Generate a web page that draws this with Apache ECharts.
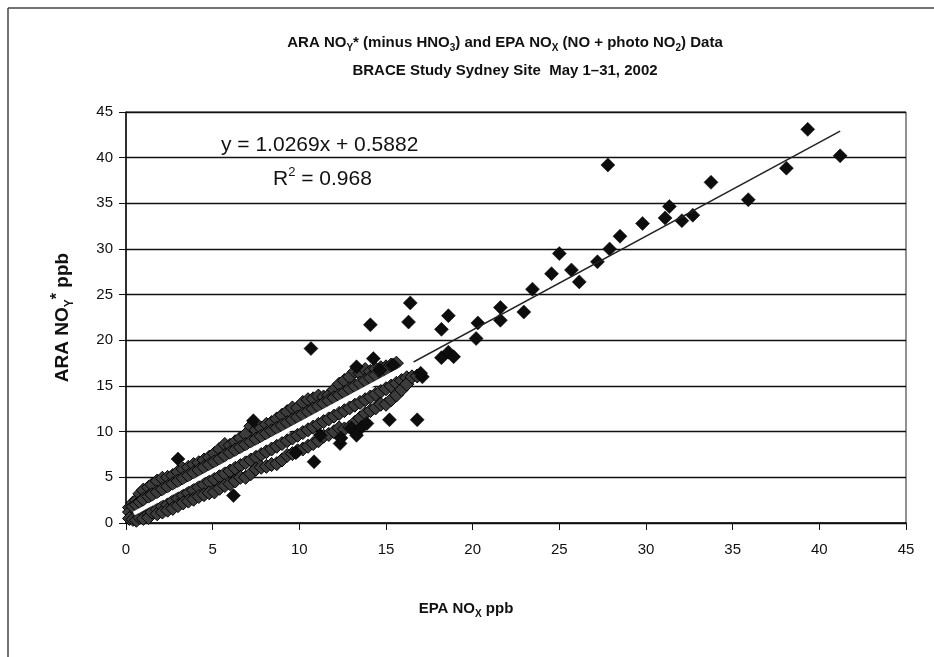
<!DOCTYPE html>
<html>
<head>
<meta charset="utf-8">
<title>ARA NOy* vs EPA NOx</title>
<script src="https://cdn.jsdelivr.net/npm/echarts@6/dist/echarts.min.js"></script>
<style>
html, body { margin: 0; padding: 0; background: #fff; }
#chart { width: 934px; height: 657px; }
</style>
</head>
<body>
<div id="chart"></div>
<script>
// dense band of hourly points: x columns and the y values read at each column
const bandX = [0.2, 0.4, 0.6, 0.8, 1.0, 1.3, 1.5, 1.8, 2.1, 2.4, 2.7, 3.0, 3.3, 3.6, 3.9,
    4.2, 4.5, 4.8, 5.1, 5.4, 5.7, 6.0, 6.3, 6.6, 6.9, 7.2, 7.5, 7.8, 8.1, 8.4, 8.7,
    9.0, 9.3, 9.6, 9.9, 10.2, 10.5, 10.8, 11.1, 11.4, 11.7, 12.0, 12.3, 12.6, 12.9,
    13.2, 13.5, 13.8, 14.1, 14.4, 14.7, 15.0, 15.3, 15.6, 15.9, 16.2, 16.5, 16.8]
const bandY = [
    [1.7, 1.2, 0.5], [2.2, 1.8, 0.4], [2.5, 2.0, 0.3], [3.2, 2.3, 0.6], [3.6, 2.6, 1.2, 0.5],
    [3.9, 2.9, 1.0, 0.6], [4.2, 3.1, 1.2], [4.6, 3.4, 1.5, 1.0], [4.9, 3.7, 1.8, 1.2],
    [5.0, 4.0, 2.0, 1.4], [5.2, 4.3, 2.4, 1.6], [5.6, 4.6, 2.7, 1.9], [5.9, 4.9, 3.0, 2.2],
    [6.1, 5.2, 3.3, 2.4], [6.4, 5.5, 3.6, 2.6], [6.6, 5.8, 3.9, 2.9], [6.9, 6.1, 4.2, 3.1],
    [7.2, 6.4, 4.5, 3.3], [7.6, 6.7, 4.8, 3.4], [8.1, 7.0, 5.1, 3.8], [8.6, 7.4, 5.4, 4.1],
    [8.5, 7.7, 5.7, 4.3], [8.9, 8.0, 6.0, 4.6], [9.3, 8.3, 6.3, 5.0], [9.7, 8.6, 6.6, 5.0],
    [10.6, 8.9, 6.9, 5.4], [10.2, 9.2, 7.2, 5.9], [10.4, 9.5, 7.5, 6.1], [10.8, 9.8, 7.8, 6.2],
    [11.0, 10.1, 8.1, 6.4], [11.4, 10.4, 8.4, 6.5], [11.8, 10.7, 8.7, 6.9], [12.2, 11.0, 9.0, 7.4],
    [12.6, 11.3, 9.3, 7.6], [12.6, 11.6, 9.6, 7.9], [13.2, 11.9, 9.9, 8.1], [13.5, 12.2, 10.2, 8.4],
    [13.6, 12.5, 10.5, 8.7], [13.9, 12.8, 10.8, 9.0], [13.8, 13.1, 11.1, 9.5], [14.0, 13.4, 11.4, 9.7],
    [14.6, 13.7, 11.7, 10.0], [15.2, 14.0, 12.0, 10.4], [15.6, 14.3, 12.3, 10.3], [16.0, 14.7, 12.6, 10.5],
    [16.6, 15.0, 12.9, 11.0], [16.4, 15.3, 13.2, 11.5], [16.8, 15.6, 13.5, 12.0], [16.6, 15.9, 13.8, 12.3],
    [16.9, 16.2, 14.1, 12.6], [17.0, 16.5, 14.4, 13.0], [17.1, 16.8, 14.7, 13.0], [17.3, 15.0, 13.5],
    [17.5, 15.3, 14.0], [15.6, 14.6], [15.9, 15.2], [16.0], [16.1]
]

// isolated points
const sparseX = [12.35, 12.4, 13.0, 13.3, 13.6, 13.9, 15.2, 16.8, 11.2, 17.1,
    3.0, 6.2, 7.35, 9.8, 10.85, 10.67, 14.1, 14.27, 13.3, 15.4, 14.65, 17.0,
    16.3, 16.4, 18.2, 18.6, 18.2, 18.6, 18.9, 20.2, 20.3, 21.6, 21.6, 22.95,
    23.45, 24.55, 25.0, 25.7, 26.15, 27.2, 27.9, 28.5, 29.8, 31.1, 31.35, 32.07,
    32.7, 33.75, 35.9, 38.1, 39.33, 41.2, 27.8]
const sparseY = [8.7, 9.3, 10.4, 9.6, 10.5, 10.9, 11.3, 11.3, 9.6, 16.0,
    7.0, 3.0, 11.2, 7.7, 6.7, 19.1, 21.7, 18.0, 17.1, 17.3, 16.75, 16.4,
    22.0, 24.1, 21.2, 22.7, 18.1, 18.7, 18.2, 20.2, 21.9, 22.2, 23.6, 23.1,
    25.6, 27.3, 29.5, 27.7, 26.4, 28.6, 30.0, 31.4, 32.8, 33.4, 34.65, 33.1,
    33.7, 37.3, 35.4, 38.85, 43.1, 40.2, 39.2]

// linear trend line end points (y = 1.0269x + 0.5882)
const trendX = [0.3, 41.2]
const trendY = [0.9, 42.9]
// part of the trend line that shows white over the dense band
const trendWhiteX = [0.45, 16.6]
const trendWhiteY = [1.05, 17.6]

const FONT = 'Liberation Sans, Arial, sans-serif'

const bandPoints = []
bandX.forEach((x, i) => bandY[i].forEach(y => bandPoints.push([x, y])))
const sparsePoints = sparseX.map((x, i) => [x, sparseY[i]])

const subStyle = {fontSize: 10, fontWeight: 'bold', fontFamily: FONT, verticalAlign: 'bottom', lineHeight: 10, color: '#111'}

const myChart = echarts.init(document.getElementById('chart'))
myChart.setOption({
    backgroundColor: '#fff',
    animation: false,
    grid: {
        left: 126,
        right: 28,
        top: 112,
        bottom: 134,
        show: true,
        borderColor: '#222',
        borderWidth: 1
    },
    xAxis: {
        type: 'value',
        min: 0,
        max: 45,
        interval: 5,
        axisLine: {show: true, lineStyle: {color: '#111', width: 1.5}},
        axisTick: {show: true, length: 7, lineStyle: {color: '#111'}},
        splitLine: {show: false},
        axisLabel: {color: '#111', fontSize: 15, fontFamily: FONT, margin: 19}
    },
    yAxis: {
        type: 'value',
        min: 0,
        max: 45,
        interval: 5,
        name: 'ARA NO{sub|Y}{sup|*} ppb',
        nameLocation: 'middle',
        nameRotate: 90,
        nameGap: 50,
        nameTextStyle: {
            fontSize: 19, fontWeight: 'bold', fontFamily: FONT, color: '#111', lineHeight: 26,
            rich: {
                sub: {...subStyle, fontSize: 12, lineHeight: 12},
                sup: {fontSize: 16, fontWeight: 'bold', fontFamily: FONT, verticalAlign: 'top', lineHeight: 16, color: '#111'}
            }
        },
        axisLine: {show: true, lineStyle: {color: '#111', width: 1.5}},
        axisTick: {show: true, length: 7, lineStyle: {color: '#111'}},
        splitLine: {show: true, lineStyle: {color: '#111', width: 1.3}},
        axisLabel: {color: '#111', fontSize: 15, fontFamily: FONT, margin: 13}
    },
    graphic: [
        {type: 'line', shape: {x1: 8, y1: 8, x2: 934, y2: 8}, style: {stroke: '#444', lineWidth: 1.5}},
        {type: 'line', shape: {x1: 8, y1: 8, x2: 8, y2: 657}, style: {stroke: '#444', lineWidth: 1.5}},
        {
            type: 'text', x: 505, y: 43,
            style: {
                text: 'ARA NO{sub|Y}* (minus HNO{sub|3}) and EPA NO{sub|X} (NO + photo NO{sub|2}) Data',
                fontSize: 15, fontWeight: 'bold', fontFamily: FONT, fill: '#111',
                align: 'center', verticalAlign: 'middle', lineHeight: 20,
                rich: {sub: subStyle}
            }
        },
        {
            type: 'text', x: 505, y: 71,
            style: {
                text: 'BRACE Study Sydney Site  May 1\u201331, 2002',
                fontSize: 15, fontWeight: 'bold', fontFamily: FONT, fill: '#111',
                align: 'center', verticalAlign: 'middle'
            }
        },
        {
            type: 'text', x: 466, y: 609,
            style: {
                text: 'EPA NO{sub|X} ppb',
                fontSize: 15, fontWeight: 'bold', fontFamily: FONT, fill: '#111',
                align: 'center', verticalAlign: 'middle', lineHeight: 20,
                rich: {sub: subStyle}
            }
        },
        {
            type: 'text', x: 221, y: 145, z: 100,
            style: {
                text: 'y = 1.0269x + 0.5882',
                fontSize: 21, fontFamily: FONT, fill: '#111',
                align: 'left', verticalAlign: 'middle'
            }
        },
        {
            type: 'text', x: 273, y: 179, z: 100,
            style: {
                text: 'R{sup|2} = 0.968',
                fontSize: 21, fontFamily: FONT, fill: '#111',
                align: 'left', verticalAlign: 'middle', lineHeight: 26,
                rich: {sup: {fontSize: 13, fontFamily: FONT, verticalAlign: 'top', lineHeight: 13, color: '#111'}}
            }
        }
    ],
    series: [
        {
            type: 'scatter',
            symbol: 'diamond',
            symbolSize: 14,
            data: bandPoints,
            itemStyle: {color: '#3c3c3c', borderColor: '#000', borderWidth: 1, opacity: 1},
            z: 2
        },
        {
            type: 'scatter',
            symbol: 'diamond',
            symbolSize: 14,
            data: sparsePoints,
            itemStyle: {color: '#0d0d0d', borderColor: '#000', borderWidth: 0.5, opacity: 1},
            z: 2
        },
        {
            type: 'line',
            data: trendX.map((x, i) => [x, trendY[i]]),
            symbol: 'none',
            lineStyle: {color: '#222', width: 1.5},
            z: 3
        },
        {
            type: 'line',
            data: trendWhiteX.map((x, i) => [x, trendWhiteY[i]]),
            symbol: 'none',
            lineStyle: {color: '#fff', width: 4},
            z: 4
        }
    ]
})
</script>
</body>
</html>
